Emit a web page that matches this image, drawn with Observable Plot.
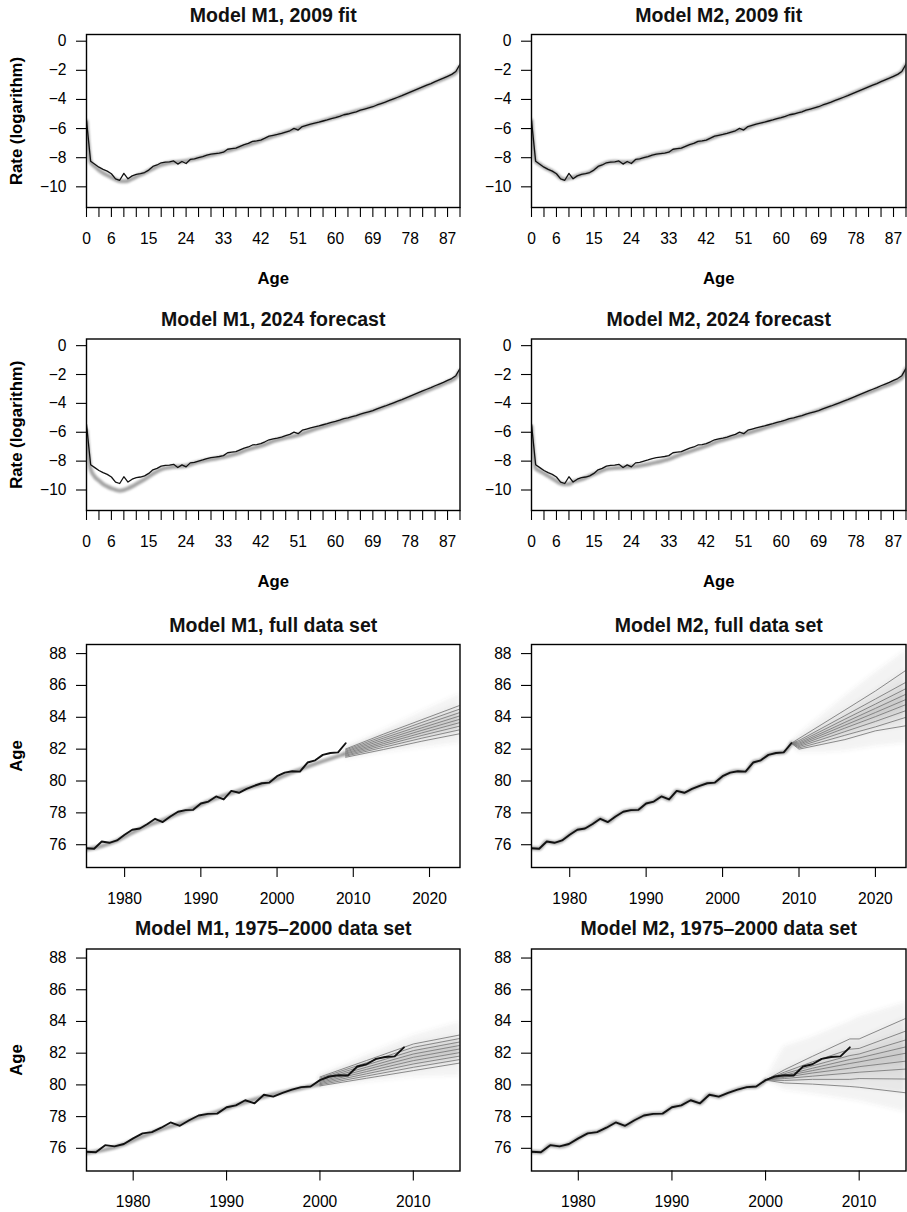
<!DOCTYPE html>
<html><head><meta charset="utf-8">
<script src="https://cdn.jsdelivr.net/npm/d3@7"></script>
<script src="https://cdn.jsdelivr.net/npm/@observablehq/plot@0.6"></script>
<style>
body{margin:0;background:#fff;}
#wrap{position:relative;width:907px;height:1212px;overflow:hidden;background:#fff;}
.panel{position:absolute;}
</style></head><body><div id="wrap"></div>
<script>
// ---------- Data: log mortality rate by age ----------
const ages = d3.range(0, 91);
const obsRate = [-5.45,-8.25,-8.45,-8.65,-8.80,-8.92,-9.10,-9.45,-9.55,-9.08,
 -9.45,-9.25,-9.15,-9.10,-9.02,-8.85,-8.60,-8.50,-8.35,-8.30,
 -8.28,-8.22,-8.44,-8.26,-8.40,-8.12,-8.08,-8.00,-7.92,-7.82,
 -7.76,-7.72,-7.68,-7.62,-7.42,-7.38,-7.34,-7.22,-7.10,-7.02,
 -6.88,-6.85,-6.79,-6.66,-6.52,-6.46,-6.40,-6.33,-6.24,-6.15,
 -5.99,-6.10,-5.86,-5.78,-5.70,-5.63,-5.56,-5.48,-5.41,-5.32,
 -5.25,-5.16,-5.05,-5.00,-4.92,-4.85,-4.74,-4.66,-4.58,-4.50,
 -4.38,-4.28,-4.18,-4.07,-3.96,-3.85,-3.74,-3.62,-3.50,-3.38,
 -3.26,-3.14,-3.02,-2.91,-2.78,-2.66,-2.54,-2.41,-2.28,-2.08,-1.58];
const fitAges = [0,1,2,3,4,5,6,7,8,9,10,11,12,14,16,18,20,22,24,26,28,30,33,36,39,42,45,48,51,54,57,60,63,66,69,72,75,78,81,84,87,89,90];
const m1Fit2009 = [-5.5,-8.3,-8.6,-8.85,-9.05,-9.2,-9.35,-9.5,-9.6,-9.62,-9.58,-9.45,-9.3,-9.05,-8.75,-8.5,-8.35,-8.3,-8.22,-8.1,-7.95,-7.82,-7.62,-7.38,-7.1,-6.82,-6.52,-6.25,-5.98,-5.72,-5.47,-5.22,-4.98,-4.73,-4.48,-4.18,-3.87,-3.52,-3.17,-2.82,-2.45,-2.15,-1.75];
const m2Fit2009 = [-5.45,-8.25,-8.45,-8.65,-8.8,-8.95,-9.15,-9.4,-9.5,-9.4,-9.35,-9.25,-9.15,-9.0,-8.62,-8.36,-8.28,-8.32,-8.3,-8.08,-7.92,-7.76,-7.6,-7.34,-7.02,-6.79,-6.46,-6.24,-6.02,-5.7,-5.48,-5.25,-5.0,-4.74,-4.5,-4.18,-3.85,-3.5,-3.14,-2.78,-2.41,-2.08,-1.62];
const m1Fc2024 = [-5.9,-8.55,-9.08,-9.35,-9.59,-9.75,-9.89,-9.98,-10.05,-10.0,-9.89,-9.75,-9.59,-9.25,-8.88,-8.57,-8.44,-8.38,-8.32,-8.14,-8.0,-7.88,-7.72,-7.5,-7.18,-6.95,-6.62,-6.38,-6.2,-5.88,-5.6,-5.34,-5.08,-4.8,-4.52,-4.22,-3.92,-3.58,-3.24,-2.88,-2.52,-2.2,-1.75];
const m2Fc2024 = [-5.6,-8.5,-8.68,-8.85,-9.02,-9.2,-9.38,-9.54,-9.6,-9.59,-9.43,-9.35,-9.26,-9.02,-8.78,-8.55,-8.48,-8.44,-8.39,-8.32,-8.22,-8.09,-7.86,-7.52,-7.24,-6.94,-6.62,-6.36,-6.14,-5.88,-5.6,-5.34,-5.08,-4.78,-4.5,-4.2,-3.9,-3.56,-3.24,-2.9,-2.56,-2.22,-1.6];

// ---------- Data: life expectancy by year ----------
const years = d3.range(1975, 2010);
const obsLE = [75.78,75.75,76.2,76.12,76.27,76.63,76.94,77.02,77.3,77.63,
 77.42,77.77,78.07,78.17,78.19,78.59,78.71,79.03,78.84,79.38,
 79.26,79.5,79.7,79.86,79.9,80.3,80.53,80.61,80.59,81.16,
 81.3,81.64,81.76,81.8,82.37];
const fitYearsFull = [1975,1977,1979,1981,1983,1985,1987,1989,1991,1993,1995,1997,1999,2001,2003,2005,2007,2009];
const m1FitFull = [75.7,75.92,76.25,76.75,77.2,77.55,77.95,78.3,78.72,79.08,79.4,79.66,79.95,80.35,80.72,81.08,81.4,81.72];
const fitYears7500 = [1975,1977,1979,1981,1983,1985,1987,1989,1991,1993,1995,1997,1999,2000];
const m1Fit7500 = [75.7,75.92,76.25,76.75,77.2,77.55,77.95,78.3,78.72,79.08,79.4,79.66,79.92,80.05];

// forecast quantile lines (top to bottom) and outer band
const m1FullYears = [2009, 2014, 2019, 2024];
const m1FullQ = [
 [82.01,82.95,83.85,84.75],[81.95,82.82,83.68,84.52],[81.88,82.70,83.50,84.30],
 [81.82,82.58,83.34,84.09],[81.75,82.46,83.18,83.88],[81.69,82.35,83.02,83.67],
 [81.62,82.24,82.86,83.45],[81.56,82.12,82.69,83.22],[81.49,81.98,82.50,82.97]];
const m1FullOuter = [[82.1,83.2,84.35,85.45],[81.4,81.8,82.1,82.4]];

const m2FullYears = [2009, 2010, 2013, 2016, 2020, 2024];
const m2FullQ = [
 [82.37,82.67,83.56,84.45,85.65,86.95],[82.37,82.54,83.32,84.10,85.15,86.20],
 [82.37,82.45,83.16,83.88,84.83,85.80],[82.37,82.37,83.02,83.68,84.56,85.45],
 [82.37,82.30,82.90,83.50,84.30,85.12],[82.37,82.23,82.77,83.32,84.04,84.80],
 [82.37,82.16,82.62,83.10,83.74,84.42],[82.37,82.08,82.46,82.87,83.40,84.00],
 [82.37,82.00,82.30,82.60,83.15,83.47]];
const m2FullOuter = [[82.37,82.9,84.1,85.3,86.8,88.2],[82.37,81.8,81.8,81.9,82.2,82.4]];

const m17500Years = [2000, 2005, 2010, 2015];
const m17500Q = [
 [80.50,81.54,82.58,83.15],[80.43,81.40,82.37,82.93],[80.36,81.26,82.16,82.71],
 [80.29,81.12,81.95,82.49],[80.22,80.98,81.74,82.27],[80.15,80.84,81.53,82.04],
 [80.08,80.70,81.32,81.82],[80.01,80.56,81.11,81.60],[79.94,80.42,80.90,81.38]];
const m17500Outer = [[80.6,81.9,83.1,83.95],[79.85,80.2,80.5,80.6]];

const m27500Years = [2000, 2002, 2005, 2009, 2010, 2015];
const m27500Q = [
 [80.30,80.95,81.80,82.90,82.90,84.20],[80.30,80.80,81.45,82.25,82.30,83.40],
 [80.30,80.70,81.20,81.85,81.95,82.84],[80.30,80.60,81.05,81.60,81.70,82.40],
 [80.30,80.55,80.90,81.35,81.45,82.00],[80.30,80.48,80.75,81.05,81.15,81.50],
 [80.30,80.40,80.55,80.75,80.80,81.00],[80.30,80.28,80.35,80.35,80.40,80.37],
 [80.30,80.12,80.05,79.90,79.85,79.50]];
const m27500Outer = [[80.3,82.4,83.0,84.0,84.3,85.2],[80.3,79.7,79.45,79.1,79.0,78.3]];

// ---------- Axis ticks ----------
const ageTicks = d3.range(0, 91, 3);
const ageLabels = [0,6,15,24,33,42,51,60,69,78,87];
const rateTicks = [0,-2,-4,-6,-8,-10];
const leTicks = [76,78,80,82,84,86,88];
const yearTicksFull = [1980,1990,2000,2010,2020];
const yearTicks7500 = [1980,1990,2000,2010];

// ---------- Helpers ----------
const FONT = '"Liberation Sans", Arial, Helvetica, sans-serif';
const fmtMinus = d => d < 0 ? "\u2212" + Math.abs(d) : String(d);
const wrap = document.getElementById("wrap");
let uid = 0;

function pts(xs, ys) { return xs.map((x, i) => ({x, y: ys[i]})); }

function fanMarks(yrs, Q, outer) {
  const n = Q.length;
  const marks = [];
  const band = (a, b) => yrs.map((x, i) => ({x, y1: b[i], y2: a[i]}));
  const areaOpts = {x: "x", y1: "y1", y2: "y2", fill: "#4a4a4a", fillOpacity: 0.075, clip: true, ariaDescription: "soft"};
  marks.push(Plot.areaY(band(outer[0], outer[1]), areaOpts));
  for (let k = 0; k < Math.floor(n / 2); k++) {
    marks.push(Plot.areaY(band(Q[k], Q[n - 1 - k]), areaOpts));
  }
  const lineData = [];
  Q.forEach((q, k) => yrs.forEach((x, i) => lineData.push({x, y: q[i], k})));
  marks.push(Plot.line(lineData, {x: "x", y: "y", z: "k", stroke: "#7d7d7d", strokeWidth: 0.9, clip: true}));
  return marks;
}

function panel(o) {
  const id = "p" + (uid++);
  const marks = [
    ...o.marks,
    Plot.frame({stroke: "black", strokeWidth: 1.4}),
    Plot.axisY(o.yTicks, {tickSize: 10, tickPadding: 10, tickFormat: fmtMinus, strokeWidth: 1.1, label: null}),
    Plot.axisX(o.xTicks, {tickSize: 10, tickFormat: () => "", strokeWidth: 1.1, label: null}),
    Plot.axisX(o.xLabels, {tickSize: 0, tickPadding: 25, tickFormat: d => String(d), label: null}),
    Plot.text([o.title], {frameAnchor: "top", lineAnchor: "middle", textAnchor: "middle", dy: o.titleDy, fontWeight: "bold", fontSize: 19.5, fill: "#111"})
  ];
  if (o.xLabel) marks.push(Plot.text([o.xLabel], {frameAnchor: "bottom", lineAnchor: "middle", textAnchor: "middle", dy: 71, fontWeight: "bold", fontSize: 16.7}));
  if (o.yLabel) marks.push(Plot.text([o.yLabel], {frameAnchor: "left", lineAnchor: "middle", textAnchor: "middle", dx: -70.2, rotate: -90, fontWeight: "bold", fontSize: 16.7}));
  const svg = Plot.plot({
    width: o.width, height: o.height,
    marginTop: o.mt, marginBottom: o.mb, marginLeft: o.ml, marginRight: o.mr,
    x: {domain: o.xDomain, axis: null},
    y: {domain: o.yDomain, axis: null},
    style: {fontFamily: FONT, fontSize: "15.6px", color: "black", background: "transparent", overflow: "visible"},
    marks
  });
  const s = d3.select(svg);
  const defs = s.insert("defs", ":first-child");
  defs.append("filter").attr("id", id + "b").attr("x", "-10%").attr("y", "-30%").attr("width", "120%").attr("height", "160%")
    .append("feGaussianBlur").attr("stdDeviation", 1.2);
  defs.append("filter").attr("id", id + "s").attr("x", "-10%").attr("y", "-30%").attr("width", "120%").attr("height", "160%")
    .append("feGaussianBlur").attr("stdDeviation", 2.2);
  s.selectAll('g[aria-description="blur"]').attr("filter", `url(#${id}b)`);
  s.selectAll('g[aria-description="soft"]').attr("filter", `url(#${id}s)`);
  const div = document.createElement("div");
  div.className = "panel";
  div.style.left = o.left + "px";
  div.style.top = o.top + "px";
  div.appendChild(svg);
  wrap.appendChild(div);
}

const L = {left: 0, width: 465, ml: 86, mr: 5.5};
const R = {left: 462, width: 445, ml: 69, mr: 1.5};
const rows = [
  {top: 0, height: 295, mt: 34, mb: 88, titleDy: -19},
  {top: 295, height: 300, mt: 43.5, mb: 85, titleDy: -19.3},
  {top: 595, height: 313, mt: 49, mb: 41, titleDy: -18.5},
  {top: 908, height: 304, mt: 40.5, mb: 41.5, titleDy: -20.3}
];

const rateCommon = {xDomain: [0, 90], yDomain: [-11.42, 0.46], xTicks: ageTicks, xLabels: ageLabels, yTicks: rateTicks, xLabel: "Age"};
const fitLine = (xs, ys) => Plot.line(pts(xs, ys), {x: "x", y: "y", stroke: "#a4a4a4", strokeWidth: 4, curve: "monotone-x", clip: true, ariaDescription: "blur"});
const obsRateLine = () => Plot.line(pts(ages, obsRate), {x: "x", y: "y", stroke: "#111", strokeWidth: 1.3, clip: true});

panel({...L, ...rows[0], ...rateCommon, title: "Model M1, 2009 fit", yLabel: "Rate (logarithm)",
  marks: [fitLine(fitAges, m1Fit2009), obsRateLine()]});
panel({...R, ...rows[0], ...rateCommon, title: "Model M2, 2009 fit",
  marks: [fitLine(fitAges, m2Fit2009), obsRateLine()]});
panel({...L, ...rows[1], ...rateCommon, title: "Model M1, 2024 forecast", yLabel: "Rate (logarithm)",
  marks: [fitLine(fitAges, m1Fc2024), obsRateLine()]});
panel({...R, ...rows[1], ...rateCommon, title: "Model M2, 2024 forecast",
  marks: [fitLine(fitAges, m2Fc2024), obsRateLine()]});

const leFull = {xDomain: [1975, 2024], yDomain: [74.57, 88.57], xTicks: yearTicksFull, xLabels: yearTicksFull, yTicks: leTicks};
const le7500 = {xDomain: [1975, 2015], yDomain: [74.57, 88.57], xTicks: yearTicks7500, xLabels: yearTicks7500, yTicks: leTicks};
const obsLELine = () => Plot.line(pts(years, obsLE), {x: "x", y: "y", stroke: "#111", strokeWidth: 1.9, clip: true});
const obsLE7500 = years.filter(y => y <= 2000);

panel({...L, ...rows[2], ...leFull, title: "Model M1, full data set", yLabel: "Age",
  marks: [fitLine(fitYearsFull, m1FitFull), ...fanMarks(m1FullYears, m1FullQ, m1FullOuter), obsLELine()]});
panel({...R, ...rows[2], ...leFull, title: "Model M2, full data set",
  marks: [fitLine(years, obsLE), ...fanMarks(m2FullYears, m2FullQ, m2FullOuter), obsLELine()]});
panel({...L, ...rows[3], ...le7500, title: "Model M1, 1975\u20132000 data set", yLabel: "Age",
  marks: [fitLine(fitYears7500, m1Fit7500), ...fanMarks(m17500Years, m17500Q, m17500Outer), obsLELine()]});
panel({...R, ...rows[3], ...le7500, title: "Model M2, 1975\u20132000 data set",
  marks: [fitLine(obsLE7500, obsLE.slice(0, obsLE7500.length)), ...fanMarks(m27500Years, m27500Q, m27500Outer), obsLELine()]});
</script></body></html>
